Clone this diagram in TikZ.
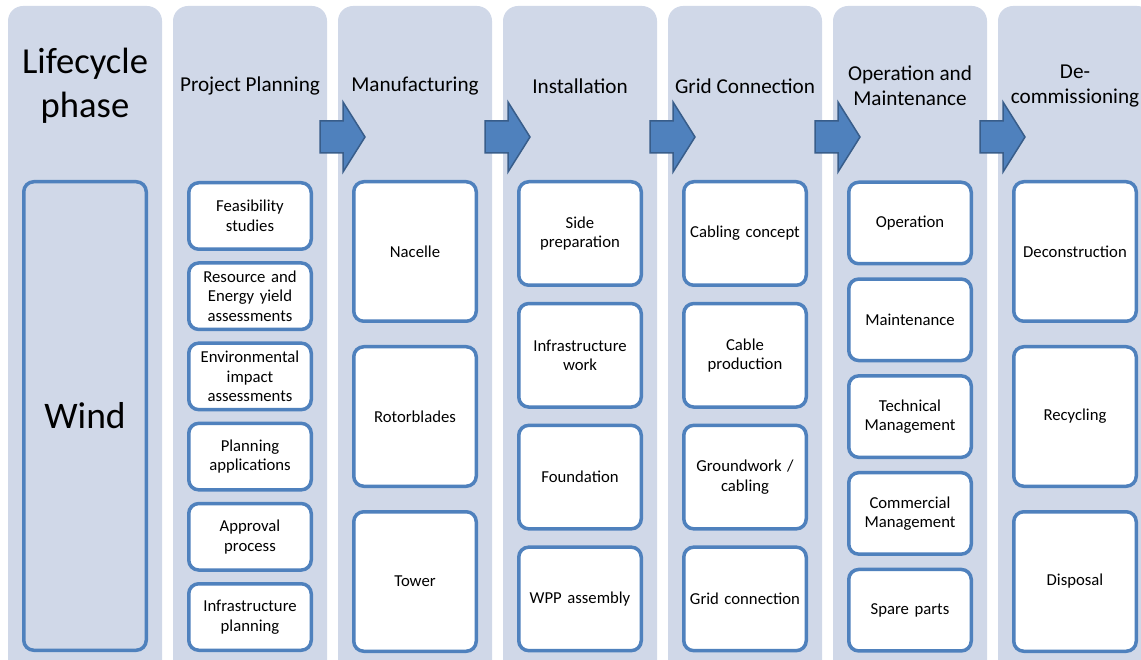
\documentclass[tikz,border=0pt]{standalone}
\usepackage{fontspec}
\setmainfont{Carlito}
\definecolor{panelblue}{HTML}{D0D8E8}
\definecolor{boxblue}{HTML}{4F81BD}
\definecolor{arrowedge}{HTML}{385D8A}
\tikzset{
  panel/.style={fill=panelblue, rounded corners=15pt},
  stepbox/.style={draw=boxblue, line width=3.5pt, fill=white, rounded corners=10pt,
    minimum width=122.5pt, text width=120pt, inner sep=1pt, align=center,
    font=\fontsize{16.7}{19.5}\selectfont},
  phasetitle/.style={align=center, font=\fontsize{21.2}{25}\selectfont},
  phasearrow/.style={draw=arrowedge, fill=boxblue, line width=1.5pt, line join=miter}
}
\begin{document}
\begin{tikzpicture}[x=1pt,y=-1pt]
    \useasboundingbox (0,0) rectangle (1141,660);
    % columns
    \foreach \i in {0,...,6}
        \fill[panel] ({8+165*\i},6) rectangle ({162+165*\i},700);
    % arrows between phases
    \foreach \x in {320,485,650,815,980}
        \draw[phasearrow] (\x,121) -- (\x+23,121) -- (\x+23,102) -- (\x+45,137)
            -- (\x+23,172) -- (\x+23,153) -- (\x,153) -- cycle;
    % titles
    \node[align=center, font=\fontsize{36.6}{44}\selectfont] (lifecycle) at (85,86) {Lifecycle\\phase};
    \node[phasetitle] (planning) at (250,86) {Project Planning};
    \node[phasetitle] (manufacturing) at (415,86) {Manufacturing};
    \node[phasetitle] (installation) at (580,86) {Installation};
    \node[phasetitle] (grid) at (745,86) {Grid Connection};
    \node[phasetitle] (operation) at (910,86) {Operation and\\Maintenance};
    \node[phasetitle] (decommissioning) at (1075,86) {De-\\commissioning};
    % wind
    \node[stepbox, fill=panelblue, minimum height=468.5pt, font=\fontsize{37.5}{44}\selectfont] (wind) at (85,416) {Wind};
    % steps
    \foreach \txt [count=\k from 0] in {{Feasibility\\studies}, {Resource and\\Energy yield\\assessments},
        {Environmental\\impact\\assessments}, {Planning\\applications}, {Approval\\process}, {Infrastructure\\planning}}
        \node[stepbox, minimum height=66.5pt] (pp\k) at (250,216+80.2*\k) {\txt};
    \foreach \txt [count=\k from 0] in {Nacelle, Rotorblades, Tower}
        \node[stepbox, minimum height=139.5pt] (mf\k) at (415,251.5+165*\k) {\txt};
    \foreach \txt [count=\k from 0] in {{Side\\preparation}, {Infrastructure\\work}, Foundation, WPP assembly}
        \node[stepbox, minimum height=103.5pt] (in\k) at (580,233.5+121.8*\k) {\txt};
    \foreach \txt [count=\k from 0] in {Cabling concept, {Cable\\production}, {Groundwork /\\cabling}, Grid connection}
        \node[stepbox, minimum height=103.5pt] (gc\k) at (745,233.5+121.8*\k) {\txt};
    \foreach \txt [count=\k from 0] in {Operation, Maintenance, {Technical\\Management}, {Commercial\\Management}, Spare parts}
        \node[stepbox, minimum height=81.5pt] (om\k) at (910,223+96.8*\k) {\txt};
    \foreach \txt [count=\k from 0] in {Deconstruction, Recycling, Disposal}
        \node[stepbox, minimum height=139.5pt] (dc\k) at (1075,251.5+165*\k) {\txt};
\end{tikzpicture}
\end{document}
